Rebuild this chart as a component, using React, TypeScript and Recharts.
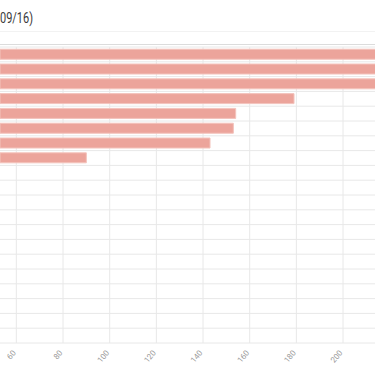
import React from "react";
import { BarChart, Bar, XAxis, YAxis, CartesianGrid, Rectangle } from "recharts";

const categories = [
  "C01", "C02", "C03", "C04", "C05", "C06", "C07", "C08", "C09", "C10",
  "C11", "C12", "C13", "C14", "C15", "C16", "C17", "C18", "C19", "C20",
];
const values = [245, 232, 226, 179, 154, 153, 143, 90, 51, 47, 44, 40, 36, 31, 29, 25, 22, 18, 14, 9];
const xTicks = [60, 80, 100, 120, 140, 160, 180, 200];
const xDomain = [53.0, 213.7];
const titleText = "09/16)";

const data = categories.map((name, i) => ({ name, value: values[i] }));

const W = 375;
const H = 366;

const Tick = (props: any) => {
  const { x, y, payload } = props;
  return (
    <text
      x={x}
      y={y + 2}
      transform={`rotate(-50, ${x}, ${y + 2})`}
      textAnchor="end"
      fontSize={8}
      fontFamily="Roboto, sans-serif"
      fill="#9a9a9a"
    >
      {payload.value}
    </text>
  );
};

const BarShape = (props: any) => {
  const x = Number(props.x) || 0;
  const w = Number(props.width) || 0;
  const right = Math.max(x, x + w);
  if (right <= 0.5) return null;
  if (props.payload && typeof props.payload.value === "number" && props.payload.value <= xDomain[0]) return null;
  return <Rectangle {...props} />;
};

export default function App() {
  return (
    <div style={{ position: "absolute", left: 0, top: 0, width: W, height: H, overflow: "hidden", background: "#fff" }}>
      <BarChart
        width={W}
        height={H}
        data={data}
        layout="vertical"
        margin={{ top: 47, right: 0, bottom: 0, left: 0 }}
        barCategoryGap="15%"
      >
        <CartesianGrid
          stroke="#e8e8e8"
          horizontalCoordinatesGenerator={({ offset }: any) =>
            categories.map((_, i) => offset.top + (i * offset.height) / categories.length).concat([offset.top + offset.height])
          }
          verticalCoordinatesGenerator={({ offset }: any) =>
            xTicks.map((t) => offset.left + ((t - xDomain[0]) / (xDomain[1] - xDomain[0])) * offset.width)
          }
        />
        <XAxis
          type="number"
          domain={xDomain}
          ticks={xTicks}
          allowDataOverflow
          axisLine={false}
          tickLine={false}
          tick={<Tick />}
          interval={0}
          height={23}
        />
        <YAxis type="category" dataKey="name" hide />
        <Bar dataKey="value" fill="#eca49b" stroke="#f3c3bc" strokeWidth={1} shape={<BarShape />} isAnimationActive={false} />
      </BarChart>
      <svg width={W} height={H} style={{ position: "absolute", left: 0, top: 0, pointerEvents: "none" }}>
        <line x1={0} x2={W} y1={31.5} y2={31.5} stroke="#f2f2f2" strokeWidth={1} />
        <line x1={0} x2={W} y1={44.5} y2={44.5} stroke="#dcdcdc" strokeWidth={1} />
        <text
          x={33}
          y={22.5}
          textAnchor="end"
          fontSize={15}
          fontFamily="Roboto, sans-serif"
          fill="#3a3a3a"
          textLength={33}
          lengthAdjust="spacingAndGlyphs"
        >
          {titleText}
        </text>
      </svg>
    </div>
  );
}
